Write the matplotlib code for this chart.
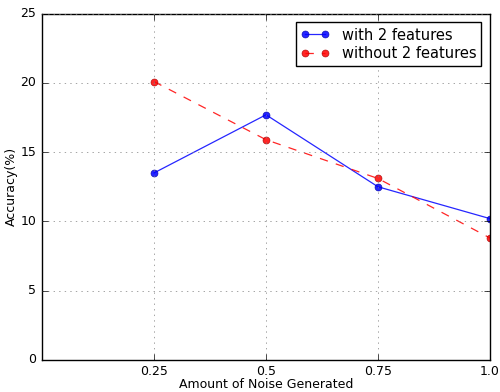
import matplotlib
matplotlib.use('Agg')
import matplotlib.pyplot as plt

noise = [0.25, 0.5, 0.75, 1.0]
with_feat = [13.5, 17.7, 12.5, 10.2]
without_feat = [20.1, 15.9, 13.1, 8.8]

plt.style.use('classic')
fig = plt.figure(figsize=(5, 3.92), dpi=100)
ax = fig.add_axes([0.084, 0.082, 0.896, 0.883])
ax.plot(noise, with_feat, '-o', color='b', lw=0.9, ms=5, mec='#0000aa', alpha=0.85, label='with 2 features')
ax.plot(noise, without_feat, '--o', color='r', lw=0.9, ms=5, mec='#aa0000', alpha=0.85, label='without 2 features')
ax.set_xlim(0, 1.0)
ax.set_ylim(0, 25)
ax.set_xticks(noise)
ax.set_xticklabels(['0.25', '0.5', '0.75', '1.0'])
ax.tick_params(labelsize=9)
ax.set_xlabel('Amount of Noise Generated', fontsize=9, labelpad=0)
ax.set_ylabel('Accuracy(%)', fontsize=9, labelpad=2)
ax.grid(True, color='gray', linestyle=':')
ax.legend(loc='upper right', fontsize=10.5, numpoints=2, handlelength=2,
          borderaxespad=0.6, labelspacing=0.25, borderpad=0.35)
fig.savefig('out.png', dpi=100, facecolor='white')
